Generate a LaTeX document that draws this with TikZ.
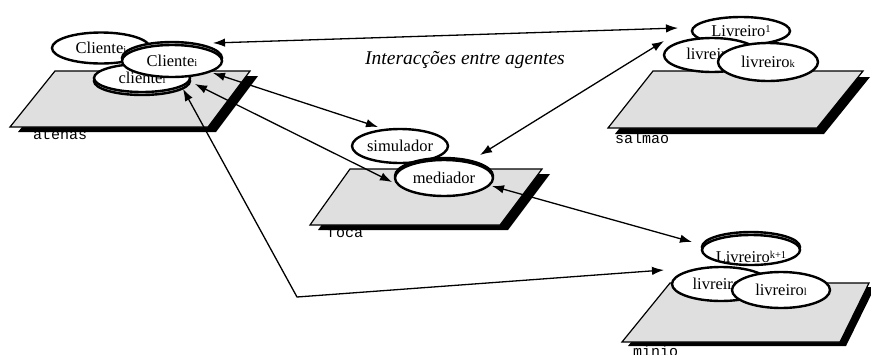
\documentclass[tikz,border=0pt]{standalone}
\usepackage{fontspec}
\setmainfont{Liberation Serif}
\setmonofont{Liberation Mono}
\usetikzlibrary{arrows.meta,shapes.geometric}

% small index set after an agent name, on the baseline or raised
\newcommand\idx[1]{{\fontsize{10.5}{10.5}\selectfont #1}}
\newcommand\upidx[1]{\raisebox{4.5pt}{\fontsize{10.5}{10.5}\selectfont #1}}

\begin{document}
\begin{tikzpicture}[x=1pt,y=-1pt,
  agent/.style={ellipse, draw, line width=2.4pt, fill=white, inner sep=0pt,
                font=\fontsize{16.5}{19}\selectfont},
  echo/.style={ellipse, draw, line width=2.4pt, fill=gray!50, inner sep=0pt},
  deck/.style={draw, line width=1.2pt, fill=gray!25, line join=miter},
  deckshade/.style={fill=black},
  host/.style={font=\ttfamily\fontsize{15}{15}\selectfont, anchor=base west, inner sep=0pt},
  caption/.style={font=\itshape\fontsize{19.5}{22}\selectfont, anchor=base, inner sep=0pt},
  link/.style={line width=1.3pt, {Latex[length=12pt,width=8.5pt]}-{Latex[length=12pt,width=8.5pt]}},
]
\useasboundingbox (0,0) rectangle (871,354);
\clip (0,0) rectangle (871,354);

% ---- host names (partly hidden under the decks) ----
\node[host] (atenas) at (33,139) {atenas};
\node[host] (salmao) at (615,143) {salmao};
\node[host] (foca)   at (327,237) {foca};
\node[host] (minio)  at (633,356) {minio};

% ---- decks with their drop shadows ----
\fill[deckshade, shift={(8,5)}] (55,71) -- (250,71) -- (208,127) -- (10,127) -- cycle;
\draw[deck] (55,71) -- (250,71) -- (208,127) -- (10,127) -- cycle;

\fill[deckshade, shift={(7,6)}] (653,71) -- (863,71) -- (817,128) -- (608,128) -- cycle;
\draw[deck] (653,71) -- (863,71) -- (817,128) -- (608,128) -- cycle;

\fill[deckshade, shift={(8,5)}] (350,169) -- (542,169) -- (500,225) -- (310,225) -- cycle;
\draw[deck] (350,169) -- (542,169) -- (500,225) -- (310,225) -- cycle;

\fill[deckshade, shift={(6,4)}] (670,283) -- (869,283) -- (840,342) -- (622,342) -- cycle;
\draw[deck] (670,283) -- (869,283) -- (840,342) -- (622,342) -- cycle;

% ---- atenas agents ----
\node[agent, minimum width=98, minimum height=31] (C1) at (101,48) {Cliente\idx{i}};
\node[echo, minimum width=96, minimum height=28] (C3e) at (142,81) {};
\node[agent, minimum width=96, minimum height=28] (C3) at (142,78) {cliente\idx{i}};
\node[echo, minimum width=100, minimum height=32] (C2e) at (172,58) {};
\node[agent, minimum width=100, minimum height=32] (C2) at (172,61) {Cliente\idx{i}};

% ---- foca agents ----
\node[agent, minimum width=96, minimum height=34] (sim) at (400,146) {simulador};
\node[echo, minimum width=98, minimum height=36] (mede) at (444,176) {};
\node[agent, minimum width=98, minimum height=36] (med) at (444,178) {mediador};

% ---- salmao agents ----
\node[agent, minimum width=98, minimum height=28] (L1) at (741,31) {Livreiro\upidx{1}};
\node[agent, minimum width=96, minimum height=34] (Lj) at (712,55) {livreiro\idx{j}};
\node[agent, minimum width=100, minimum height=38] (Lk) at (768,62) {livreiro\idx{k}};

% ---- minio agents ----
\node[echo, minimum width=98, minimum height=30] (Lk1e) at (751,247) {};
\node[agent, minimum width=98, minimum height=30] (Lk1) at (751,250) {};
\node[font=\fontsize{16.5}{19}\selectfont, inner sep=0pt] (Lk1t) at (751,257) {Livreiro\upidx{k+1}};
\node[agent, minimum width=98, minimum height=34] (Lm) at (721,284) {livreiro\idx{m}};
\node[agent, minimum width=98, minimum height=36] (Ll) at (781,290) {livreiro\idx{l}};

% ---- caption ----
\node[caption] (title) at (465,64) {Interacções entre agentes};

% ---- connector ends, just off each agent ----
\coordinate (c2up)  at ([shift={(41,-18)}]C2.center);
\coordinate (c2se)  at ([shift={(41,12)}]C2.center);
\coordinate (c3e)   at ([shift={(53,6)}]C3.center);
\coordinate (c3s)   at ([shift={(41,11)}]C3.center);
\coordinate (l1w)   at ([shift={(-63,-3)}]L1.center);
\coordinate (ljsw)  at ([shift={(-48,-14)}]Lj.center);
\coordinate (medne) at ([shift={(36,-23)}]med.center);
\coordinate (medw)  at ([shift={(-52,4)}]med.center);
\coordinate (medse) at ([shift={(48,8)}]med.center);
\coordinate (simnw) at ([shift={(-22,-19)}]sim.center);
\coordinate (lmw)   at ([shift={(-57,-14)}]Lm.center);
\coordinate (lk1w)  at ([shift={(-59,-8)}]Lk1.center);
\coordinate (bend)  at (297,297);

% ---- interactions ----
\draw[link] (c2up) -- (l1w);
\draw[link] (medne) -- (ljsw);
\draw[link] (c2se) -- (simnw);
\draw[link] (c3e) -- (medw);
\draw[link] (c3s) -- (bend) -- (lmw);
\draw[link] (medse) -- (lk1w);
\end{tikzpicture}
\end{document}
